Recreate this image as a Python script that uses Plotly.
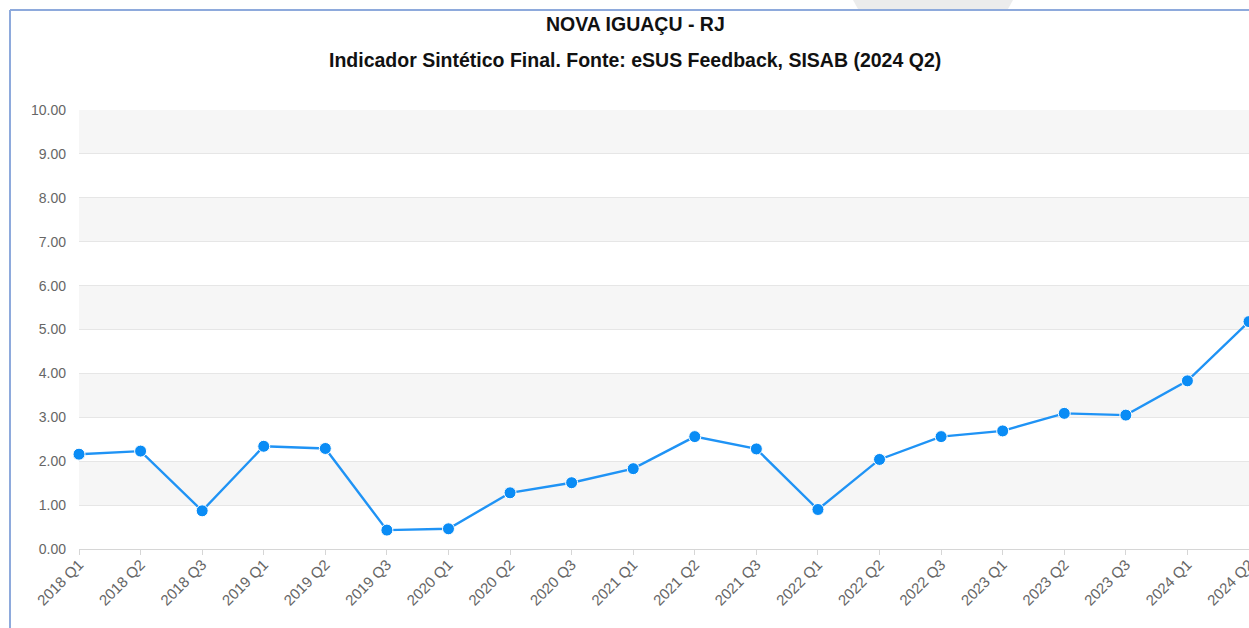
import plotly.graph_objects as go

categories = ["2018 Q1", "2018 Q2", "2018 Q3", "2019 Q1", "2019 Q2", "2019 Q3",
              "2020 Q1", "2020 Q2", "2020 Q3", "2021 Q1", "2021 Q2", "2021 Q3",
              "2022 Q1", "2022 Q2", "2022 Q3", "2023 Q1", "2023 Q2", "2023 Q3",
              "2024 Q1", "2024 Q2"]
values = [2.16, 2.23, 0.87, 2.34, 2.29, 0.43,
          0.46, 1.28, 1.51, 1.83, 2.56, 2.28,
          0.90, 2.04, 2.56, 2.69, 3.09, 3.05,
          3.83, 5.18]
y_ticks = [0, 1, 2, 3, 4, 5, 6, 7, 8, 9, 10]
shaded_bands = [(1, 2), (3, 4), (5, 6), (7, 8), (9, 10)]

title_main = "NOVA IGUAÇU - RJ"
title_sub = "Indicador Sintético Final. Fonte: eSUS Feedback, SISAB (2024 Q2)"

W, H = 1249, 628
L, R, T, B = 79, 0, 110, 79
pw, ph = W - L - R, H - T - B

def px_x(p):
    return (p - L) / pw

def px_y(p):
    return (H - B - p) / ph

fig = go.Figure()
fig.add_trace(go.Scatter(
    x=list(range(len(categories))), y=values, mode="lines+markers",
    line=dict(color="#1f93f5", width=2.4),
    marker=dict(size=12, color="#0a8cf5", line=dict(color="white", width=1)),
    cliponaxis=False, hoverinfo="skip", showlegend=False,
))

shapes = []
for lo, hi in shaded_bands:
    shapes.append(dict(type="rect", xref="paper", yref="y", x0=0, x1=1, y0=lo, y1=hi,
                       fillcolor="#f6f6f6", line=dict(width=0), layer="below"))
# container border (left and top)
shapes.append(dict(type="line", xref="paper", yref="paper", x0=px_x(10), x1=px_x(10),
                   y0=px_y(10), y1=px_y(640), line=dict(color="#8eaadc", width=2)))
shapes.append(dict(type="line", xref="paper", yref="paper", x0=px_x(10), x1=px_x(1260),
                   y0=px_y(10), y1=px_y(10), line=dict(color="#8eaadc", width=2)))
# grey tab at top
shapes.append(dict(type="path", xref="paper", yref="paper",
                   path=(f"M {px_x(853)},{px_y(0)} L {px_x(1013)},{px_y(0)} "
                         f"L {px_x(1008)},{px_y(9)} L {px_x(858)},{px_y(9)} Z"),
                   fillcolor="#ececec", line=dict(width=0)))

annotations = [
    dict(text="<b>" + title_main + "</b>", xref="paper", yref="paper",
         x=px_x(635), y=px_y(24), showarrow=False, xanchor="center", yanchor="middle",
         font=dict(family="Liberation Sans, Arial", size=19.5, color="#111111")),
    dict(text="<b>" + title_sub + "</b>", xref="paper", yref="paper",
         x=px_x(635), y=px_y(60), showarrow=False, xanchor="center", yanchor="middle",
         font=dict(family="Liberation Sans, Arial", size=19.5, color="#111111")),
]

fig.update_layout(
    width=W, height=H,
    margin=dict(l=L, r=R, t=T, b=B, pad=0, autoexpand=False),
    paper_bgcolor="white", plot_bgcolor="white",
    shapes=shapes, annotations=annotations,
    font=dict(family="Liberation Sans, Arial", color="#666666"),
    xaxis=dict(
        range=[0, len(categories) - 1], tickmode="array",
        tickvals=list(range(len(categories))), ticktext=categories,
        tickangle=-45, tickfont=dict(size=15, color="#666666"),
        ticklabeloverflow="allow", automargin=False, ticklabelstandoff=-5,
        showgrid=False, zeroline=False,
        showline=True, linecolor="#d6d6d6", linewidth=1,
        ticks="outside", ticklen=5, tickcolor="#d6d6d6", tickwidth=1,
    ),
    yaxis=dict(
        range=[0, 10], tickmode="array", tickvals=y_ticks,
        ticktext=[f"{v:.2f}" for v in y_ticks],
        tickfont=dict(size=14, color="#666666"), automargin=False,
        showgrid=True, gridcolor="#e6e6e6", gridwidth=1, zeroline=False,
        showline=False, ticks="", ticklabelstandoff=12,
    ),
)

fig.write_html("out.html", config={"displayModeBar": False},
               post_script="document.body.style.margin='0';document.body.style.overflow='hidden';")
